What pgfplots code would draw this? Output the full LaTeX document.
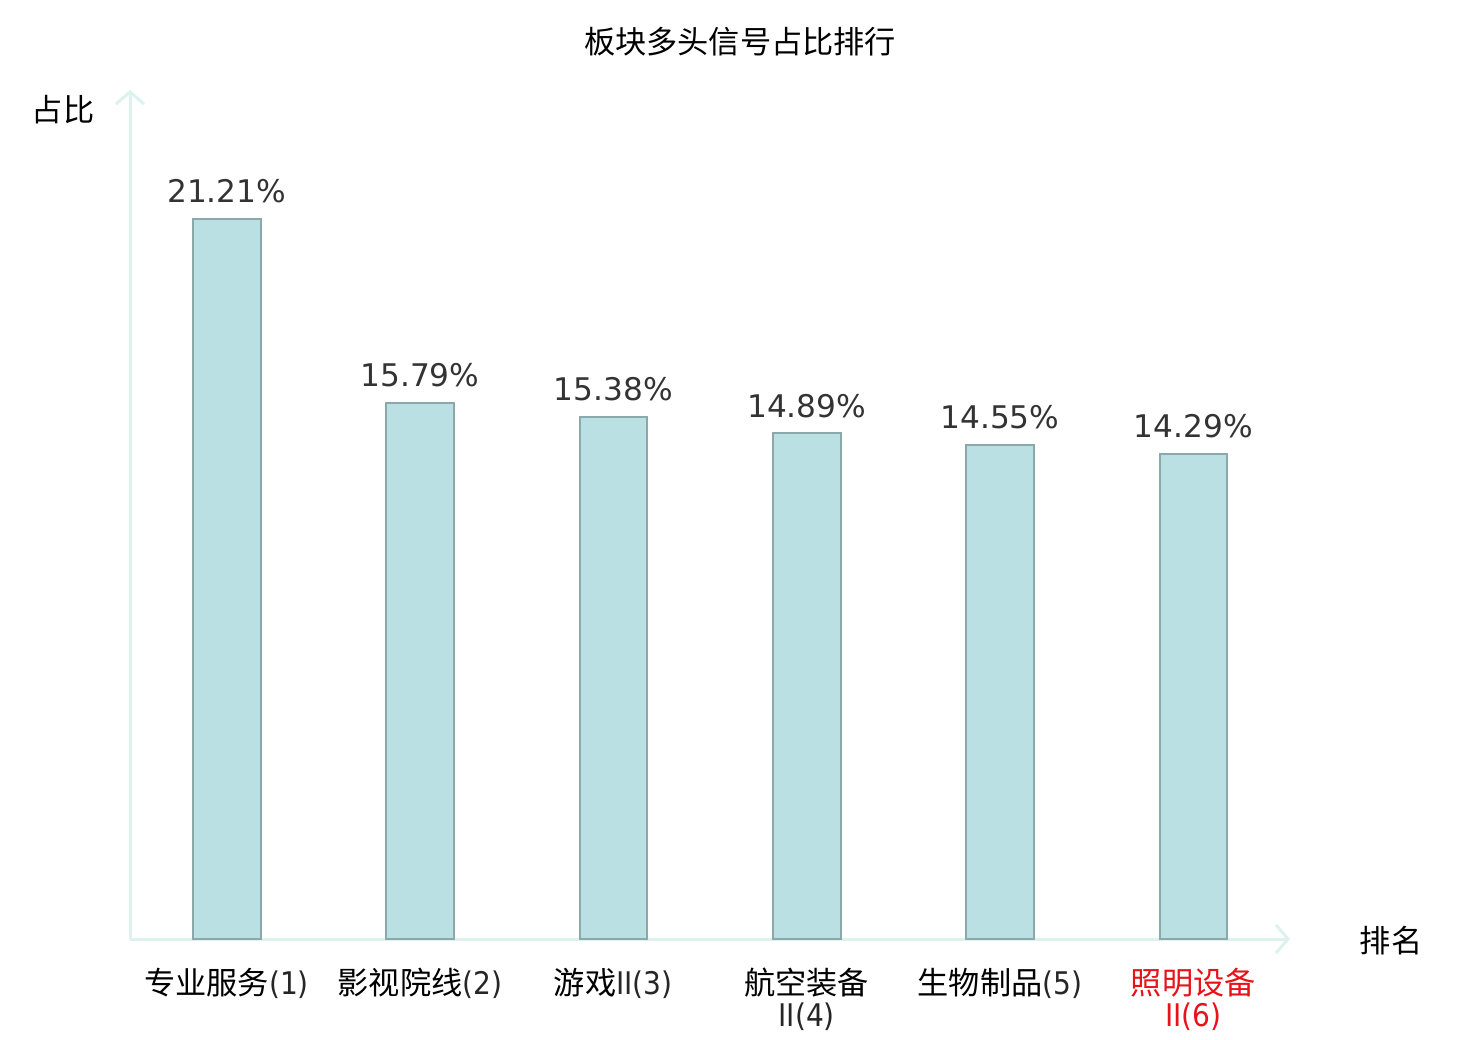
\documentclass[border=0pt]{standalone}
\usepackage{pgfplots}
\pgfplotsset{compat=1.18}
\usepackage{fontspec}
\setmainfont{DejaVu Sans}
\newfontfamily\cjk{Noto Sans CJK SC}
\newfontfamily\thin[FakeStretch=0.9]{DejaVu Sans}
\usetikzlibrary{arrows.meta}
\definecolor{barfill}{HTML}{BAE0E3}
\definecolor{baredge}{HTML}{8BA9AB}
\definecolor{axcol}{HTML}{DDF2EE}
\definecolor{valcol}{HTML}{333333}
\definecolor{redlab}{HTML}{E8121A}
\begin{document}
\begin{tikzpicture}
\path[use as bounding box] (0,0) rectangle (740pt,520pt);
\begin{axis}[
  at={(65pt,50.5pt)}, anchor=south west,
  scale only axis, width=580pt, height=424.5pt,
  xmin=-0.5, xmax=5.5, ymin=0, ymax=25,
  axis x line=bottom, axis y line=left,
  axis line style={draw=axcol, line width=1.5pt, -{Straight Barb[length=6pt,width=14pt,line width=1.5pt]}},
  ytick=\empty,
  xtick={0,1,2,3,4,5},
  xtick style={draw=none},
  /pgf/number format/assume math mode=true,
  xticklabels={
    {\cjk 专业服务\thin\color{black!85}(1)},
    {\cjk 影视院线\thin\color{black!85}(2)},
    {\cjk 游戏\thin\color{black!85}II(3)},
    {\cjk 航空装备\\\thin\color{black!85}II(4)},
    {\cjk 生物制品\thin\color{black!85}(5)},
    {\color{redlab}\cjk 照明设备\\\color{redlab}\thin II(6)}},
  xticklabel style={font=\fontsize{15.6pt}{16pt}\selectfont, align=center, yshift=-9pt},
  clip=false,
]
\addplot[ybar, bar width=0.35, fill=barfill, draw=baredge, line width=1pt,
  nodes near coords={\pgfmathprintnumber[fixed,precision=2,fixed zerofill,assume math mode=true]{\pgfplotspointmeta}\%},
  nodes near coords style={font=\fontsize{15.6pt}{16pt}\selectfont, text=valcol, yshift=4pt},
] coordinates {(0,21.21) (1,15.79) (2,15.38) (3,14.89) (4,14.55) (5,14.29)};
\end{axis}
\node[font=\cjk\fontsize{15.6pt}{16pt}\selectfont] at (370pt,499pt) {板块多头信号占比排行};
\node[font=\cjk\fontsize{15.6pt}{16pt}\selectfont] at (31.5pt,465pt) {占比};
\node[font=\cjk\fontsize{15.6pt}{16pt}\selectfont] at (695.5pt,49.5pt) {排名};
\end{tikzpicture}
\end{document}
